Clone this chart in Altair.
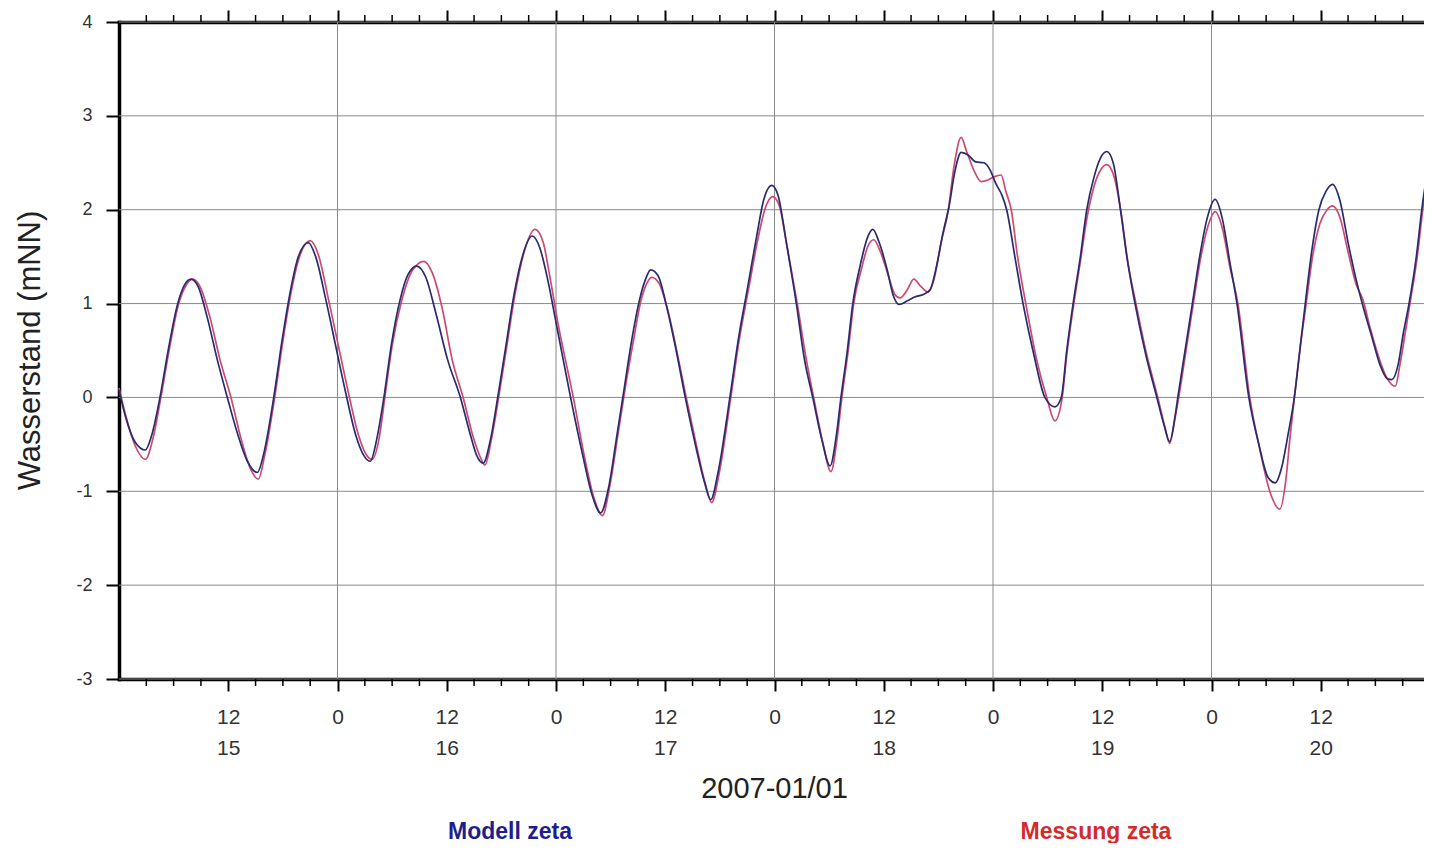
import altair as alt
import pandas as pd

# hours since 2007-01-15 00:00
model_hours = [
    0.0, 0.7, 1.8, 2.9, 3.6, 4.5, 5.4, 6.4, 7.2, 7.9,
    8.7, 9.7, 10.8, 11.9, 13.0, 14.1, 15.2, 15.9, 17.0, 17.9,
    18.8, 19.7, 20.8, 21.6, 22.7, 23.8, 24.9, 26.0, 26.9, 27.6,
    28.3, 29.1, 29.9, 30.9, 31.7, 32.7, 33.7, 34.8, 36.1, 37.5,
    38.6, 39.3, 40.0, 40.8, 41.6, 42.5, 43.4, 44.3, 45.4, 46.2,
    47.1, 48.0, 49.6, 50.9, 52.0, 52.9, 53.8, 54.7, 55.5, 56.3,
    57.2, 57.8, 58.4, 59.2, 60.2, 61.2, 62.2, 63.3, 64.3, 65.0,
    65.8, 67.1, 68.0, 69.1, 70.1, 70.8, 71.7, 72.4, 73.3, 74.4,
    75.3, 76.2, 77.2, 78.1, 78.8, 79.3, 80.0, 80.6, 81.4, 82.2,
    82.8, 83.5, 84.4, 85.0, 85.7, 86.6, 87.4, 88.4, 89.1, 89.8,
    90.5, 91.2, 91.8, 92.5, 93.3, 94.1, 95.0, 95.7, 96.3, 97.0,
    97.5, 98.4, 99.3, 100.5, 101.7, 102.8, 103.5, 104.1, 104.8, 105.6,
    106.3, 107.1, 107.8, 108.5, 109.2, 110.0, 110.7, 111.6, 112.8, 114.0,
    114.8, 115.4, 116.0, 116.3, 117.1, 117.9, 118.7, 119.5, 120.4, 121.2,
    122.0, 122.8, 124.1, 125.2, 126.2, 127.0, 127.7, 128.4, 129.1, 129.7,
    130.3, 131.0, 131.8, 132.6, 133.3, 134.1, 135.0, 135.9, 136.7, 137.6,
    138.5, 139.3, 139.8, 140.5, 141.1, 141.7, 142.5, 143.1, 144.0,
]
model_zeta = [
    0.08, -0.20, -0.48, -0.56, -0.40, 0.00, 0.50, 0.98, 1.20, 1.26,
    1.18, 0.85, 0.40, 0.00, -0.38, -0.68, -0.80, -0.60, 0.00, 0.60,
    1.12, 1.50, 1.65, 1.50, 1.05, 0.55, 0.05, -0.40, -0.62, -0.68,
    -0.45, 0.00, 0.55, 1.05, 1.30, 1.40, 1.28, 0.90, 0.40, 0.00,
    -0.40, -0.62, -0.70, -0.45, 0.00, 0.55, 1.10, 1.50, 1.72, 1.60,
    1.25, 0.80, 0.00, -0.60, -1.05, -1.23, -0.95, -0.40, 0.10, 0.60,
    1.05, 1.25, 1.36, 1.30, 0.95, 0.50, 0.00, -0.50, -0.90, -1.09,
    -0.80, 0.00, 0.60, 1.20, 1.75, 2.10, 2.26, 2.15, 1.65, 1.00,
    0.40, 0.00, -0.45, -0.73, -0.40, 0.00, 0.50, 1.00, 1.40, 1.70,
    1.79, 1.65, 1.35, 1.10, 0.99, 1.03, 1.07, 1.10, 1.15, 1.40,
    1.75, 2.05, 2.40, 2.61, 2.58, 2.51, 2.50, 2.42, 2.28, 2.15,
    2.00, 1.50, 1.00, 0.45, 0.00, -0.10, 0.00, 0.50, 1.00, 1.50,
    2.00, 2.35, 2.55, 2.62, 2.50, 2.00, 1.50, 1.00, 0.45, 0.00,
    -0.30, -0.47, -0.20, 0.00, 0.50, 1.00, 1.50, 1.90, 2.11, 1.90,
    1.45, 1.00, 0.00, -0.50, -0.85, -0.91, -0.75, -0.40, 0.00, 0.50,
    1.00, 1.55, 2.00, 2.20, 2.27, 2.10, 1.65, 1.25, 0.95, 0.65,
    0.35, 0.20, 0.19, 0.35, 0.70, 1.00, 1.50, 2.00, 2.60,
]

mess_hours = [
    0.0, 0.7, 1.8, 2.9, 3.7, 4.6, 5.5, 6.5, 7.4, 8.1,
    8.9, 10.0, 11.1, 12.3, 13.3, 14.4, 15.3, 16.0, 17.1, 18.0,
    18.9, 19.9, 21.0, 21.9, 23.0, 24.1, 25.2, 26.3, 27.1, 27.8,
    28.6, 29.2, 30.0, 31.1, 32.2, 33.5, 34.4, 35.5, 36.6, 37.8,
    38.9, 39.7, 40.2, 40.9, 41.7, 42.6, 43.5, 44.5, 45.7, 46.6,
    47.3, 48.2, 49.9, 51.1, 52.2, 53.1, 53.9, 54.8, 55.6, 56.5,
    57.3, 57.9, 58.5, 59.3, 60.3, 61.3, 62.3, 63.4, 64.4, 65.1,
    65.9, 67.2, 68.1, 69.2, 70.2, 71.0, 71.8, 72.5, 73.4, 74.5,
    75.5, 76.3, 77.3, 78.2, 78.9, 79.4, 80.1, 80.7, 81.5, 82.3,
    82.9, 83.6, 84.5, 85.2, 85.8, 86.6, 87.3, 88.1, 88.9, 89.5,
    90.3, 91.1, 91.7, 92.5, 93.1, 93.9, 94.7, 95.5, 96.1, 96.9,
    97.4, 98.0, 98.7, 99.6, 100.8, 101.9, 102.8, 103.6, 104.1, 104.8,
    105.6, 106.3, 107.1, 107.8, 108.5, 109.3, 110.1, 110.8, 111.7, 112.9,
    114.1, 114.9, 115.4, 116.0, 116.4, 117.2, 118.0, 118.8, 119.6, 120.4,
    121.2, 122.0, 122.9, 124.2, 125.3, 126.4, 127.5, 128.2, 128.6, 129.1,
    129.7, 130.4, 131.1, 131.9, 132.7, 133.3, 134.1, 135.0, 135.9, 136.6,
    137.4, 138.3, 139.2, 140.2, 140.7, 141.3, 141.8, 142.6, 143.2, 144.0,
]
mess_zeta = [
    0.10, -0.18, -0.52, -0.66, -0.45, 0.00, 0.50, 0.98, 1.20, 1.26,
    1.18, 0.85, 0.40, 0.00, -0.40, -0.75, -0.87, -0.62, 0.00, 0.60,
    1.12, 1.52, 1.67, 1.52, 1.05, 0.55, 0.05, -0.40, -0.60, -0.66,
    -0.42, 0.00, 0.55, 1.05, 1.35, 1.45, 1.33, 0.95, 0.40, 0.00,
    -0.42, -0.64, -0.72, -0.45, 0.00, 0.55, 1.10, 1.55, 1.79, 1.65,
    1.30, 0.80, 0.00, -0.62, -1.08, -1.26, -0.95, -0.40, 0.10, 0.60,
    1.02, 1.20, 1.28, 1.22, 0.92, 0.48, 0.00, -0.50, -0.92, -1.12,
    -0.82, 0.00, 0.60, 1.18, 1.70, 2.02, 2.14, 2.05, 1.60, 1.00,
    0.40, 0.00, -0.48, -0.79, -0.42, 0.00, 0.50, 1.00, 1.35, 1.62,
    1.68, 1.56, 1.30, 1.10, 1.06, 1.15, 1.26, 1.18, 1.12, 1.25,
    1.65, 2.00, 2.45, 2.77, 2.62, 2.42, 2.30, 2.32, 2.35, 2.37,
    2.20, 2.00, 1.50, 1.00, 0.40, 0.00, -0.25, 0.00, 0.45, 0.95,
    1.45, 1.90, 2.25, 2.42, 2.48, 2.35, 1.95, 1.45, 1.00, 0.45,
    0.00, -0.32, -0.49, -0.22, 0.00, 0.50, 1.00, 1.48, 1.82, 1.98,
    1.80, 1.40, 1.00, 0.00, -0.55, -1.00, -1.19, -0.85, -0.45, 0.00,
    0.50, 1.00, 1.50, 1.85, 2.00, 2.04, 1.92, 1.55, 1.20, 1.05,
    0.75, 0.45, 0.22, 0.12, 0.35, 0.70, 1.00, 1.50, 2.00, 2.62,
]

y_ticks = [-3, -2, -1, 0, 1, 2, 3, 4]
major_hours = list(range(12, 145, 12))
day_lines = [24, 48, 72, 96, 120]
minor_hours = [h for h in range(3, 144, 3) if h % 12 != 0]
series_names = ["Messung zeta", "Modell zeta"]
line_colors = ["#cc4a70", "#2a2a6e"]
legend_colors = {"Modell zeta": "#1e1e8c", "Messung zeta": "#d42a2a"}

W, H = 1303, 657
X_RANGE = 1311  # the time axis runs on past the right edge of the page, as in the original
FONT = "Liberation Sans"
GRID = "#8a8a8a"

lines_df = pd.concat([
    pd.DataFrame({"h": mess_hours, "v": mess_zeta, "series": series_names[0]}),
    pd.DataFrame({"h": model_hours, "v": model_zeta, "series": series_names[1]}),
], ignore_index=True)

xs = alt.Scale(domain=[0, 144], range=[0, X_RANGE], nice=False, zero=False)
ys = alt.Scale(domain=[-3, 4], nice=False, zero=False)

y_axis = alt.Axis(
    values=y_ticks, grid=False,
    labelExpr="'' + datum.value",
    tickSize=13, tickWidth=2, tickColor="black",
    domainColor="black", domainWidth=3.5, domainCap="square",
    labelFontSize=18, labelFont=FONT, labelColor="#333333", labelPadding=14,
    title="Wasserstand (mNN)", titleFontSize=31, titleFont=FONT,
    titleFontWeight="normal", titleColor="#222222",
    titleX=-73, titleY=328)

hgrid = alt.Chart(pd.DataFrame({"v": y_ticks})).mark_rule(
    color=GRID, strokeWidth=1, clip=False
).encode(
    y=alt.Y("v:Q", scale=ys, axis=y_axis),
    x=alt.XDatum(0, scale=xs, axis=None),
    x2=alt.X2Datum(144),
)

vgrid = alt.Chart(pd.DataFrame({"h": day_lines})).mark_rule(
    color=GRID, strokeWidth=1
).encode(
    x=alt.X("h:Q", scale=xs, axis=alt.Axis(
        orient="top", values=major_hours, labels=False, title=None, grid=False,
        ticks=True, tickSize=12, tickWidth=2, tickColor="black",
        domain=True, domainColor="black", domainWidth=3.5, domainCap="square"))
)

lines = alt.Chart(lines_df).mark_line(
    strokeWidth=1.7, interpolate="monotone", clip=False
).encode(
    x=alt.X("h:Q", scale=xs, axis=alt.Axis(
        orient="bottom", values=major_hours,
        labelExpr="datum.value % 24 == 12 ? ['12', '' + (15 + floor(datum.value / 24))] : '0'",
        labelLineHeight=31, labelFontSize=21, labelFont=FONT, labelColor="#333333",
        labelPadding=15, labelFlush=False, labelOverlap=False,
        tickSize=12, tickWidth=2, tickColor="black",
        domainColor="black", domainWidth=3.5, domainCap="square", grid=False,
        title="2007-01/01", titleFontSize=29, titleFont=FONT, titleFontWeight="normal",
        titleColor="#222222", titleX=655, titleY=109, titleBaseline="middle")),
    y=alt.Y("v:Q", scale=ys, axis=y_axis),
    color=alt.Color("series:N", scale=alt.Scale(domain=series_names, range=line_colors),
                    legend=None),
    detail="series:N",
)

minor_df = pd.DataFrame({"h": minor_hours})
minor_bottom = alt.Chart(minor_df).mark_rule(color="black", strokeWidth=1.5).encode(
    x=alt.X("h:Q", scale=xs, axis=None), y=alt.value(H), y2=alt.value(H + 7)
)
minor_top = alt.Chart(minor_df).mark_rule(color="black", strokeWidth=1.5).encode(
    x=alt.X("h:Q", scale=xs, axis=None), y=alt.value(0), y2=alt.value(-7)
)

leg1 = alt.Chart(pd.DataFrame({"t": ["Modell zeta"]})).mark_text(
    font=FONT, fontSize=23, fontWeight="bold", color=legend_colors["Modell zeta"],
    align="center", baseline="alphabetic"
).encode(x=alt.value(391), y=alt.value(817), text="t:N")
leg2 = alt.Chart(pd.DataFrame({"t": ["Messung zeta"]})).mark_text(
    font=FONT, fontSize=23, fontWeight="bold", color=legend_colors["Messung zeta"],
    align="center", baseline="alphabetic"
).encode(x=alt.value(977), y=alt.value(817), text="t:N")

chart = alt.layer(
    hgrid, vgrid, lines, minor_bottom, minor_top, leg1, leg2
).properties(
    width=W, height=H,
    autosize=alt.AutoSizeParams(type="none"),
    padding={"left": 111, "top": 14, "right": 2, "bottom": 164},
    background="white",
).configure_view(stroke=None)

chart.save("out.html", embed_options={"renderer": "svg", "actions": False})
